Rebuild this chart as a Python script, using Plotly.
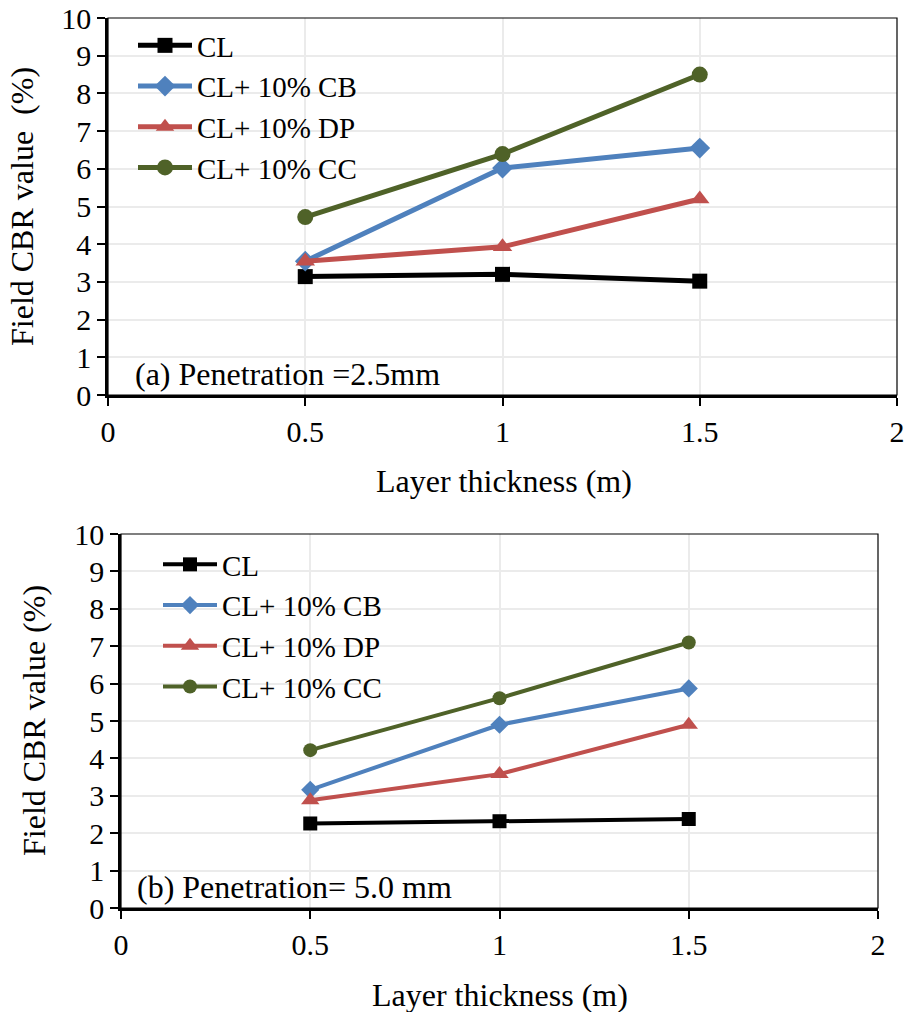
import plotly.graph_objects as go

thickness = [0.5, 1.0, 1.5]
series_names = ["CL", "CL+ 10% CB", "CL+ 10% DP", "CL+ 10% CC"]

# (a) Penetration = 2.5 mm
cbr_a_cl = [3.14, 3.20, 3.02]
cbr_a_cb = [3.55, 6.02, 6.55]
cbr_a_dp = [3.55, 3.93, 5.20]
cbr_a_cc = [4.72, 6.39, 8.50]

# (b) Penetration = 5.0 mm
cbr_b_cl = [2.26, 2.32, 2.38]
cbr_b_cb = [3.16, 4.90, 5.87]
cbr_b_dp = [2.88, 3.58, 4.90]
cbr_b_cc = [4.22, 5.61, 7.10]

x_ticks = [0, 0.5, 1, 1.5, 2]
x_tick_labels = ["0", "0.5", "1", "1.5", "2"]
y_ticks = list(range(0, 11))

colors = ["#000000", "#4F81BD", "#C0504D", "#4F6228"]
symbols = ["square", "diamond", "triangle-up", "circle"]
FONT = "Liberation Serif"

W, H = 910, 1012
fig = go.Figure()

data_a = [cbr_a_cl, cbr_a_cb, cbr_a_dp, cbr_a_cc]
data_b = [cbr_b_cl, cbr_b_cb, cbr_b_dp, cbr_b_cc]
msize_a = [15, 16, 17, 16]
msize_b = [14, 14, 16, 14]

for i, name in enumerate(series_names):
    fig.add_trace(go.Scatter(
        x=thickness, y=data_a[i], name=name, mode="lines+markers",
        line=dict(color=colors[i], width=5),
        marker=dict(symbol=symbols[i], size=msize_a[i], color=colors[i]),
        xaxis="x", yaxis="y", legend="legend"))
for i, name in enumerate(series_names):
    fig.add_trace(go.Scatter(
        x=thickness, y=data_b[i], name=name, mode="lines+markers",
        line=dict(color=colors[i], width=4),
        marker=dict(symbol=symbols[i], size=msize_b[i], color=colors[i]),
        xaxis="x2", yaxis="y2", legend="legend2"))

def px_x(p):
    return p / W

def px_y(p):
    return 1 - p / H

axis_common = dict(
    showline=True, linecolor="black", linewidth=2.5,
    ticks="outside", ticklen=8, tickwidth=2, tickcolor="black",
    showgrid=True, gridcolor="#ebebeb", gridwidth=1.5,
    zeroline=False, automargin=False,
    tickfont=dict(family=FONT, size=30, color="black"),
)

fig.update_layout(
    template="none",
    width=W, height=H,
    margin=dict(l=0, r=0, t=0, b=0, pad=0, autoexpand=False),
    paper_bgcolor="white", plot_bgcolor="white",
    font=dict(family=FONT, color="black"),
    xaxis=dict(domain=[px_x(108), px_x(897)], range=[0, 2],
               tickvals=x_ticks, ticktext=x_tick_labels, anchor="y", **axis_common),
    yaxis=dict(domain=[px_y(395), px_y(18)], range=[0, 10],
               tickvals=y_ticks, anchor="x", **axis_common),
    xaxis2=dict(domain=[px_x(121), px_x(878)], range=[0, 2],
                tickvals=x_ticks, ticktext=x_tick_labels, anchor="y2", **axis_common),
    yaxis2=dict(domain=[px_y(908), px_y(534)], range=[0, 10],
                tickvals=y_ticks, anchor="x2", **axis_common),
    legend=dict(x=px_x(133), y=px_y(20), xanchor="left", yanchor="top",
                bgcolor="rgba(0,0,0,0)", font=dict(family=FONT, size=29, color="black"),
                itemwidth=54, tracegroupgap=0),
    legend2=dict(x=px_x(158), y=px_y(539), xanchor="left", yanchor="top",
                 bgcolor="rgba(0,0,0,0)", font=dict(family=FONT, size=29, color="black"),
                 itemwidth=54, tracegroupgap=0),
    showlegend=True,
)

# thin frame on top/right
for xa, ya in [("x", "y"), ("x2", "y2")]:
    fig.add_shape(type="rect", xref=f"{xa} domain", yref=f"{ya} domain",
                  x0=0, x1=1, y0=0, y1=1, line=dict(color="black", width=1.2),
                  layer="above")

ann = [
    dict(text="(a) Penetration =2.5mm", x=px_x(133), y=px_y(374), xanchor="left", yanchor="middle", size=32),
    dict(text="(b) Penetration= 5.0 mm", x=px_x(135), y=px_y(887), xanchor="left", yanchor="middle", size=32),
    dict(text="Layer thickness (m)", x=px_x(504), y=px_y(481), xanchor="center", yanchor="middle", size=32),
    dict(text="Layer thickness (m)", x=px_x(500), y=px_y(995), xanchor="center", yanchor="middle", size=32),
]
for a in ann:
    fig.add_annotation(text=a["text"], x=a["x"], y=a["y"], xref="paper", yref="paper",
                       xanchor=a["xanchor"], yanchor=a["yanchor"], showarrow=False,
                       font=dict(family=FONT, size=a["size"], color="black"))

fig.add_annotation(text="Field CBR value  (%)", x=px_x(22), y=px_y(207), xref="paper", yref="paper",
                   textangle=-90, showarrow=False, xanchor="center", yanchor="middle",
                   font=dict(family=FONT, size=32, color="black"))
fig.add_annotation(text="Field CBR value (%)", x=px_x(34), y=px_y(721), xref="paper", yref="paper",
                   textangle=-90, showarrow=False, xanchor="center", yanchor="middle",
                   font=dict(family=FONT, size=32, color="black"))

fig.write_html("out.html")
